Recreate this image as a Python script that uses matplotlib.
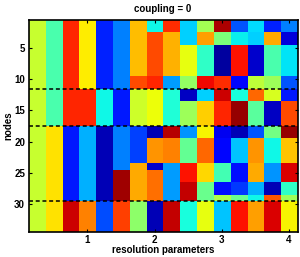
import numpy as np
import matplotlib
matplotlib.use("Agg")
import matplotlib.pyplot as plt

plt.rcParams["font.family"] = ["Liberation Sans", "DejaVu Sans"]
plt.rcParams["font.weight"] = "bold"

# colour level of each cell (0-100 on the jet scale), one row per node
matrix = [
    [59, 44, 87, 66, 16, 25, 71, 37, 86, 33, 55, 96, 21, 34, 16, 25],
    [59, 44, 87, 66, 16, 25, 71, 37, 86, 33, 55, 96, 21, 34, 16, 25],
    [59, 44, 87, 66, 16, 25, 71, 83, 72, 33, 74, 50, 36, 33, 73, 8],
    [59, 44, 87, 66, 16, 25, 71, 83, 72, 33, 74, 50, 36, 33, 73, 8],
    [59, 44, 87, 66, 16, 25, 71, 83, 72, 63, 41, 3, 89, 7, 44, 35],
    [59, 44, 87, 66, 16, 25, 71, 83, 72, 63, 41, 3, 89, 7, 44, 35],
    [59, 44, 87, 66, 16, 25, 71, 83, 72, 63, 41, 3, 89, 7, 44, 35],
    [59, 44, 87, 66, 16, 25, 71, 83, 72, 63, 41, 3, 89, 7, 44, 35],
    [59, 44, 87, 66, 16, 25, 71, 83, 72, 63, 41, 3, 89, 7, 44, 35],
    [59, 44, 87, 66, 16, 25, 83, 87, 28, 53, 90, 86, 13, 58, 54, 21],
    [59, 44, 87, 66, 16, 25, 83, 87, 28, 53, 90, 86, 13, 58, 54, 21],
    [59, 44, 87, 87, 37, 15, 60, 64, 39, 6, 33, 93, 38, 80, 61, 15],
    [59, 44, 87, 87, 37, 15, 60, 64, 39, 6, 33, 93, 38, 80, 61, 15],
    [59, 44, 87, 87, 37, 15, 60, 64, 39, 54, 69, 87, 98, 46, 6, 83],
    [59, 44, 87, 87, 37, 15, 60, 64, 39, 54, 69, 87, 98, 46, 6, 83],
    [59, 44, 87, 87, 37, 15, 60, 64, 39, 54, 69, 87, 98, 46, 6, 83],
    [59, 44, 87, 87, 37, 15, 60, 64, 39, 54, 69, 87, 98, 46, 6, 83],
    [59, 67, 15, 30, 5, 25, 19, 5, 95, 27, 65, 10, 5, 21, 49, 98],
    [59, 67, 15, 30, 5, 25, 19, 5, 95, 27, 65, 10, 5, 21, 49, 98],
    [59, 67, 15, 30, 5, 25, 19, 75, 77, 47, 80, 13, 32, 75, 37, 70],
    [59, 67, 15, 30, 5, 25, 19, 75, 77, 47, 80, 13, 32, 75, 37, 70],
    [59, 67, 15, 30, 5, 25, 19, 75, 77, 47, 80, 13, 32, 75, 37, 70],
    [59, 67, 15, 30, 5, 25, 19, 75, 77, 47, 80, 13, 32, 75, 37, 70],
    [59, 67, 15, 30, 5, 25, 73, 7, 28, 89, 68, 43, 14, 73, 27, 92],
    [59, 67, 15, 30, 5, 97, 73, 79, 28, 89, 68, 43, 14, 73, 27, 92],
    [59, 67, 15, 30, 5, 97, 73, 79, 28, 89, 68, 43, 14, 73, 27, 92],
    [59, 67, 15, 30, 5, 97, 73, 79, 28, 94, 48, 14, 18, 30, 5, 41],
    [59, 67, 15, 30, 5, 97, 73, 79, 28, 94, 48, 14, 18, 30, 5, 41],
    [59, 67, 15, 30, 5, 97, 73, 79, 28, 94, 48, 56, 48, 37, 82, 54],
    [59, 67, 93, 77, 20, 84, 52, 5, 94, 38, 63, 32, 89, 74, 92, 65],
    [59, 67, 93, 77, 20, 84, 52, 5, 94, 38, 63, 32, 89, 74, 92, 65],
    [59, 67, 93, 77, 20, 84, 52, 5, 94, 38, 63, 32, 89, 74, 92, 65],
    [59, 67, 93, 77, 20, 84, 52, 5, 94, 38, 63, 32, 89, 74, 92, 65],
    [59, 67, 93, 77, 20, 84, 52, 5, 94, 38, 63, 32, 89, 74, 92, 65],
]
x_ticks = [4, 8, 12, 16]
x_labels = ["1", "2", "3", "4"]
y_ticks = [5, 10, 15, 20, 25, 30]
group_breaks = [11.5, 17.5, 29.5]

W, H = 300, 257
fig = plt.figure(figsize=(W / 100, H / 100), dpi=100)
ax = fig.add_axes([28.5 / W, 1 - 232 / H, 269 / W, 212 / H])

data = np.array(matrix)
ax.imshow(data, cmap="jet", vmin=0, vmax=100, aspect="auto",
          interpolation="nearest",
          extent=(0.5, data.shape[1] + 0.5, data.shape[0] + 0.5, 0.5))

# dashed lines between the node groups
for b in group_breaks:
    ax.axhline(b, color="black", linestyle=(0, (2.6, 1.8)), linewidth=1.1)

ax.set_xticks(x_ticks)
ax.set_xticklabels(x_labels)
ax.set_yticks(y_ticks)
ax.tick_params(direction="in", length=2.5, width=0.8, top=True, right=True,
               labelsize=7, pad=2.5)
for s in ax.spines.values():
    s.set_linewidth(1.2)

fig.text(163 / W, 1 - 9 / H, "coupling = 0", ha="center", va="center", fontsize=7)
fig.text(163 / W, 1 - 250 / H, "resolution parameters", ha="center", va="center", fontsize=7)
fig.text(8 / W, 1 - 126 / H, "nodes", ha="center", va="center", rotation=90, fontsize=7)

fig.savefig("out.png", dpi=100)
plt.close(fig)
